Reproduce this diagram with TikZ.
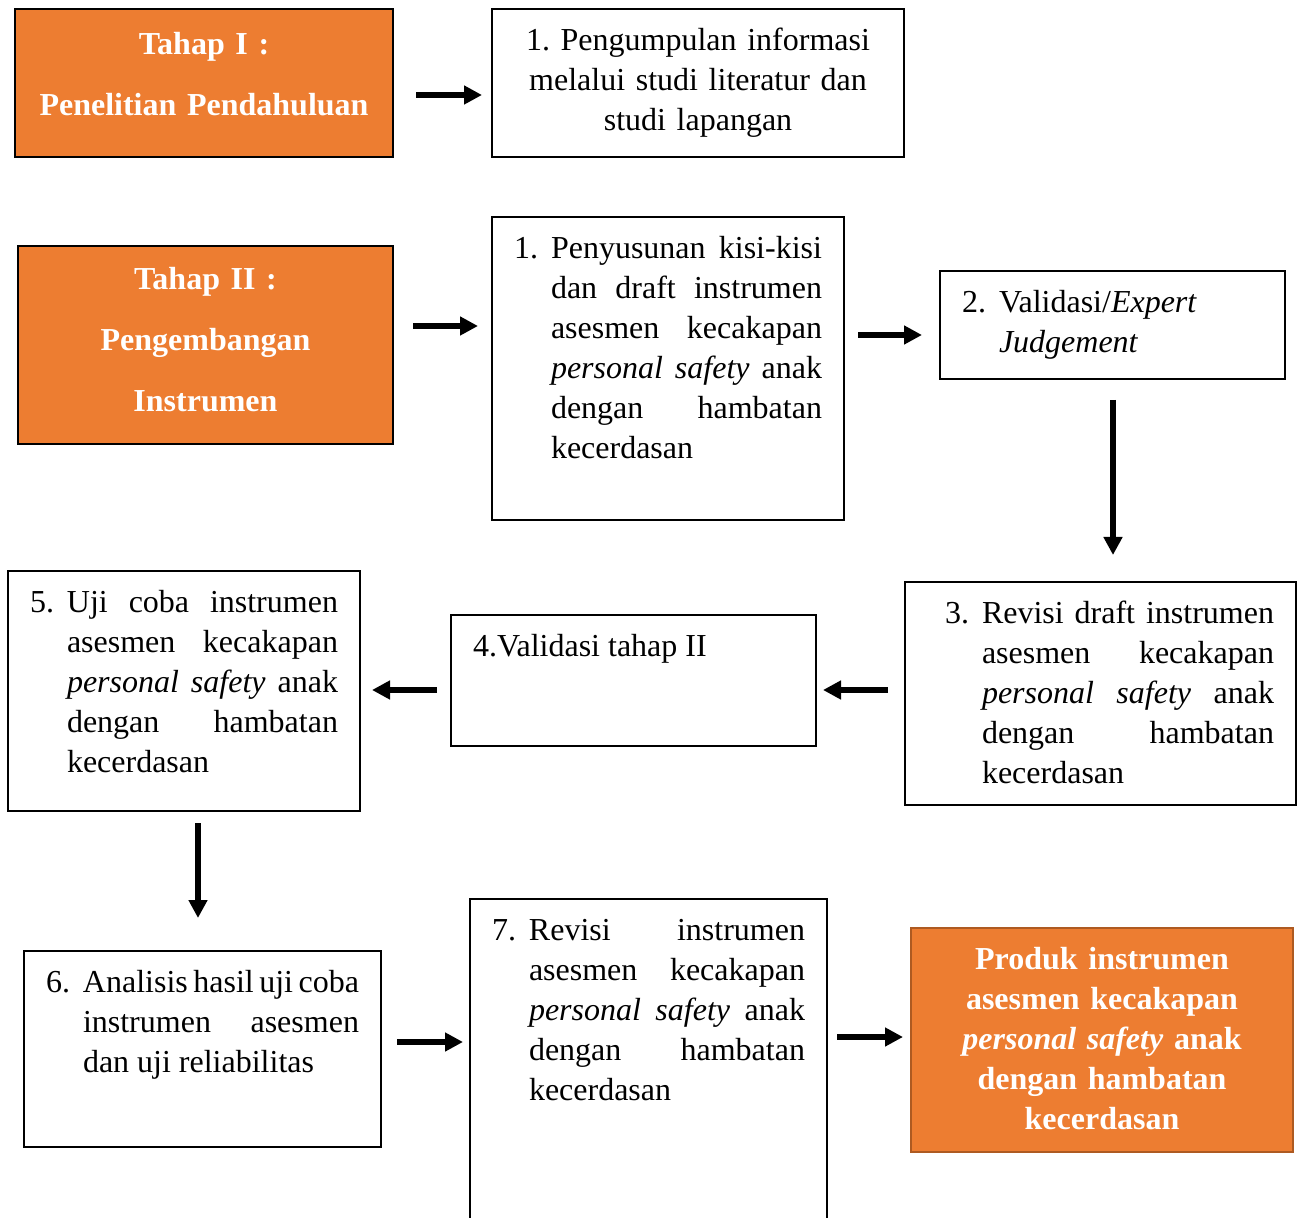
\documentclass[tikz,border=0pt]{standalone}
\usepackage{fontspec}
\setmainfont{Liberation Serif}
\usetikzlibrary{arrows.meta,calc}
\hbadness=10000
\frenchspacing

\definecolor{oranye}{HTML}{ED7D31}
\definecolor{oranyegaris}{HTML}{AE5A21}
\newcommand\langkah[1]{\noindent\hangindent=18.5pt\hangafter=1\makebox[18.5pt][l]{#1}}

\tikzset{
  kotak/.style={draw, line width=1pt, anchor=north west, inner xsep=11pt, inner ysep=0pt, outer sep=0pt,
    text height=20.75pt, align=justify, font=\fontsize{16}{20}\selectfont},
  tahap/.style={kotak, fill=oranye, text=white, align=center, font=\fontsize{16}{30.5}\selectfont\bfseries},
  panah/.style={line width=2.7pt, -{Triangle[length=9pt,width=9pt]}}
}

\begin{document}
\begin{tikzpicture}[x=0.5pt,y=-0.5pt]
\useasboundingbox (0,0) rectangle (1305,1218);
\clip (0,0) rectangle (1305,1218);

% tahap I
\node[tahap, text width=167pt, text height=23pt, text depth=51pt] (tahap1) at (15,9) {Tahap I :\\Penelitian Pendahuluan};
\node[kotak, align=center, text width=184pt, text depth=53.25pt] (info) at (492,9) {1. Pengumpulan informasi\\melalui studi literatur dan\\studi lapangan};

% tahap II
\node[tahap, text width=165.5pt, text height=21.75pt, text depth=77.25pt] (tahap2) at (18,246) {Tahap II :\\Pengembangan\\Instrumen};
\node[kotak, text width=154pt, text depth=130.75pt] (susun) at (492,217) {\langkah{1.}Penyusunan kisi-kisi\linebreak dan draft instrumen\linebreak asesmen kecakapan\linebreak \emph{personal safety} anak\linebreak dengan hambatan\linebreak kecerdasan\par};
\node[kotak, text width=150.5pt, text depth=33.25pt] (validasi) at (940,271) {\langkah{2.}Validasi/\emph{Expert}\\\emph{Judgement}\par};
\node[kotak, text width=173.5pt, text depth=90.75pt] (revisi) at (905,582) {\leftskip=9pt\langkah{3.}Revisi draft instrumen\linebreak asesmen kecakapan\linebreak \emph{personal safety} anak\linebreak dengan hambatan\linebreak kecerdasan\par};
\node[kotak, text width=160.5pt, text depth=44.75pt] (validasi2) at (451,615) {4.Validasi tahap II};
\node[kotak, text width=154pt, text depth=99.25pt] (ujicoba) at (8,571) {\langkah{5.}Uji coba instrumen\linebreak asesmen kecakapan\linebreak \emph{personal safety} anak\linebreak dengan hambatan\linebreak kecerdasan\par};
\node[kotak, text width=156.5pt, text depth=77.25pt] (analisis) at (24,951) {\langkah{6.}Analisis hasil uji coba\linebreak instrumen asesmen\linebreak dan uji reliabilitas\par};
\node[kotak, text width=156.5pt, text depth=159.25pt] (revisi2) at (470,899) {\langkah{7.}Revisi instrumen\linebreak asesmen kecakapan\linebreak \emph{personal safety} anak\linebreak dengan hambatan\linebreak kecerdasan\par};
\node[tahap, draw=oranyegaris, font=\fontsize{16}{20}\selectfont\bfseries, text width=169pt, text depth=91.25pt] (produk) at (911,928) {Produk instrumen\\asesmen kecakapan\\\emph{personal safety} anak\\dengan hambatan\\kecerdasan};

% panah
\draw[panah] ($(tahap1.east)+(23,12)$) -- ($(info.west)+(-10,12)$);
\draw[panah] ($(tahap2.east)+(20,-19)$) -- ($(susun.west)+(-14,-42.5)$);
\draw[panah] ($(susun.east)+(14,-33.5)$) -- ($(validasi.west)+(-18,10)$);
\draw[panah] ($(validasi.south)+(0.5,21)$) -- ($(revisi.north)+(12.5,-27)$);
\draw[panah] ($(revisi.west)+(-17,-3.5)$) -- ($(validasi2.east)+(7,9.5)$);
\draw[panah] ($(validasi2.west)+(-14,9.5)$) -- ($(ujicoba.east)+(12,-1)$);
\draw[panah] ($(ujicoba.south)+(14,12)$) -- ($(analisis.north)+(-4.5,-33)$);
\draw[panah] ($(analisis.east)+(16,-7)$) -- ($(revisi2.west)+(-7,-37)$);
\draw[panah] ($(revisi2.east)+(10,-42)$) -- ($(produk.west)+(-8,-3)$);
\end{tikzpicture}
\end{document}
